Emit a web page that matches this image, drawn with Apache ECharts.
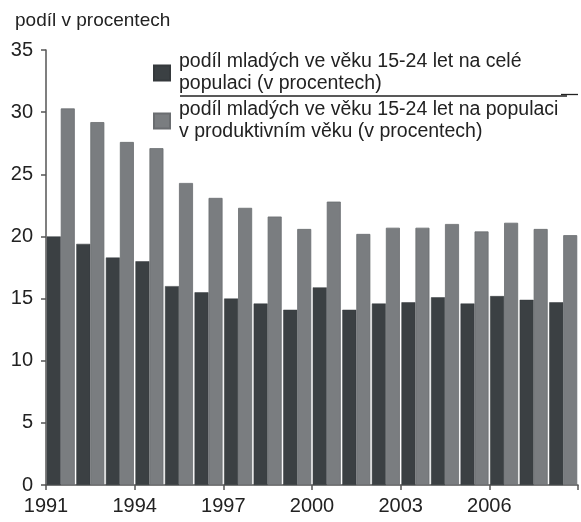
<!DOCTYPE html>
<html>
<head>
<meta charset="utf-8">
<script src="https://cdn.jsdelivr.net/npm/echarts@6/dist/echarts.min.js"></script>
<style>html,body{margin:0;padding:0;background:#fff}#c{width:581px;height:522px}</style>
</head>
<body>
<div id="c"></div>
<script>
var years = ['1991','1992','1993','1994','1995','1996','1997','1998','1999','2000','2001','2002','2003','2004','2005','2006','2007','2008'];
var shareTotal = [20.0, 19.4, 18.3, 18.0, 16.0, 15.5, 15.0, 14.6, 14.1, 15.9, 14.1, 14.6, 14.7, 15.1, 14.6, 15.2, 14.9, 14.7];
var shareProductive = [30.3, 29.2, 27.6, 27.1, 24.3, 23.1, 22.3, 21.6, 20.6, 22.8, 20.2, 20.7, 20.7, 21.0, 20.4, 21.1, 20.6, 20.1];
var yTicks = [0, 5, 10, 15, 20, 25, 30, 35];
var firstYear = 1991;
var nameTotal = 'podíl mladých ve věku 15-24 let na celé\npopulaci (v procentech)';
var nameProductive = 'podíl mladých ve věku 15-24 let na populaci\nv produktivním věku (v procentech)';
var yTitle = 'podíl v procentech';

var FONT = 'Liberation Sans, Arial, sans-serif';
var chart = echarts.init(document.getElementById('c'), null, {renderer: 'canvas'});
chart.setOption({
  animation: false,
  backgroundColor: '#ffffff',
  textStyle: {fontFamily: FONT},
  title: {
    text: yTitle, left: 10, top: 6,
    textStyle: {fontSize: 19, fontWeight: 'normal', color: '#222', fontFamily: FONT}
  },
  grid: {left: 46, right: 3, top: 50, bottom: 37, containLabel: false},
  legend: {
    orient: 'vertical', left: 148, top: 46, itemWidth: 16, itemHeight: 15, itemGap: 4,
    icon: 'rect',
    textStyle: {fontSize: 19.5, color: '#222', lineHeight: 22, padding: [0, 0, 0, 4], fontFamily: FONT},
    data: [nameTotal, nameProductive]
  },
  xAxis: [{
    type: 'category', data: years, position: 'bottom',
    axisLine: {show: true, lineStyle: {color: '#555', width: 1.5}},
    axisTick: {show: false}, axisLabel: {show: false}, splitLine: {show: false}
  }, {
    type: 'value', min: 0, max: years.length, interval: 3, position: 'bottom',
    axisLine: {show: false},
    axisTick: {show: true, length: 5, lineStyle: {color: '#555', width: 1.5}},
    axisLabel: {
      show: true, fontSize: 20, color: '#222', margin: 11, fontFamily: FONT,
      formatter: function (v) { return v >= years.length ? '' : String(firstYear + v); }
    },
    splitLine: {show: false}
  }],
  yAxis: {
    type: 'value', min: yTicks[0], max: yTicks[yTicks.length - 1], interval: 5,
    axisLine: {show: true, lineStyle: {color: '#555', width: 1.5}},
    axisTick: {show: true, length: 5, lineStyle: {color: '#555', width: 1.5}},
    axisLabel: {fontSize: 20, color: '#222', margin: 13, fontFamily: FONT},
    splitLine: {show: false}
  },
  series: [{
    name: nameTotal, type: 'bar', xAxisIndex: 0, data: shareTotal,
    barWidth: 14, barGap: '0%',
    itemStyle: {color: '#3b4043', borderColor: '#35393c', borderWidth: 0.5}
  }, {
    name: nameProductive, type: 'bar', xAxisIndex: 0, data: shareProductive,
    barWidth: 14, barGap: '0%',
    itemStyle: {color: '#7a7d80', borderColor: '#6a6d70', borderWidth: 0.8}
  }],
  graphic: [{
    type: 'line', shape: {x1: 180, y1: 96, x2: 567, y2: 96},
    style: {stroke: '#222', lineWidth: 1.3}
  }, {
    type: 'line', shape: {x1: 561, y1: 94.5, x2: 578, y2: 94.5},
    style: {stroke: '#222', lineWidth: 1.3}
  }]
});
</script>
</body>
</html>
